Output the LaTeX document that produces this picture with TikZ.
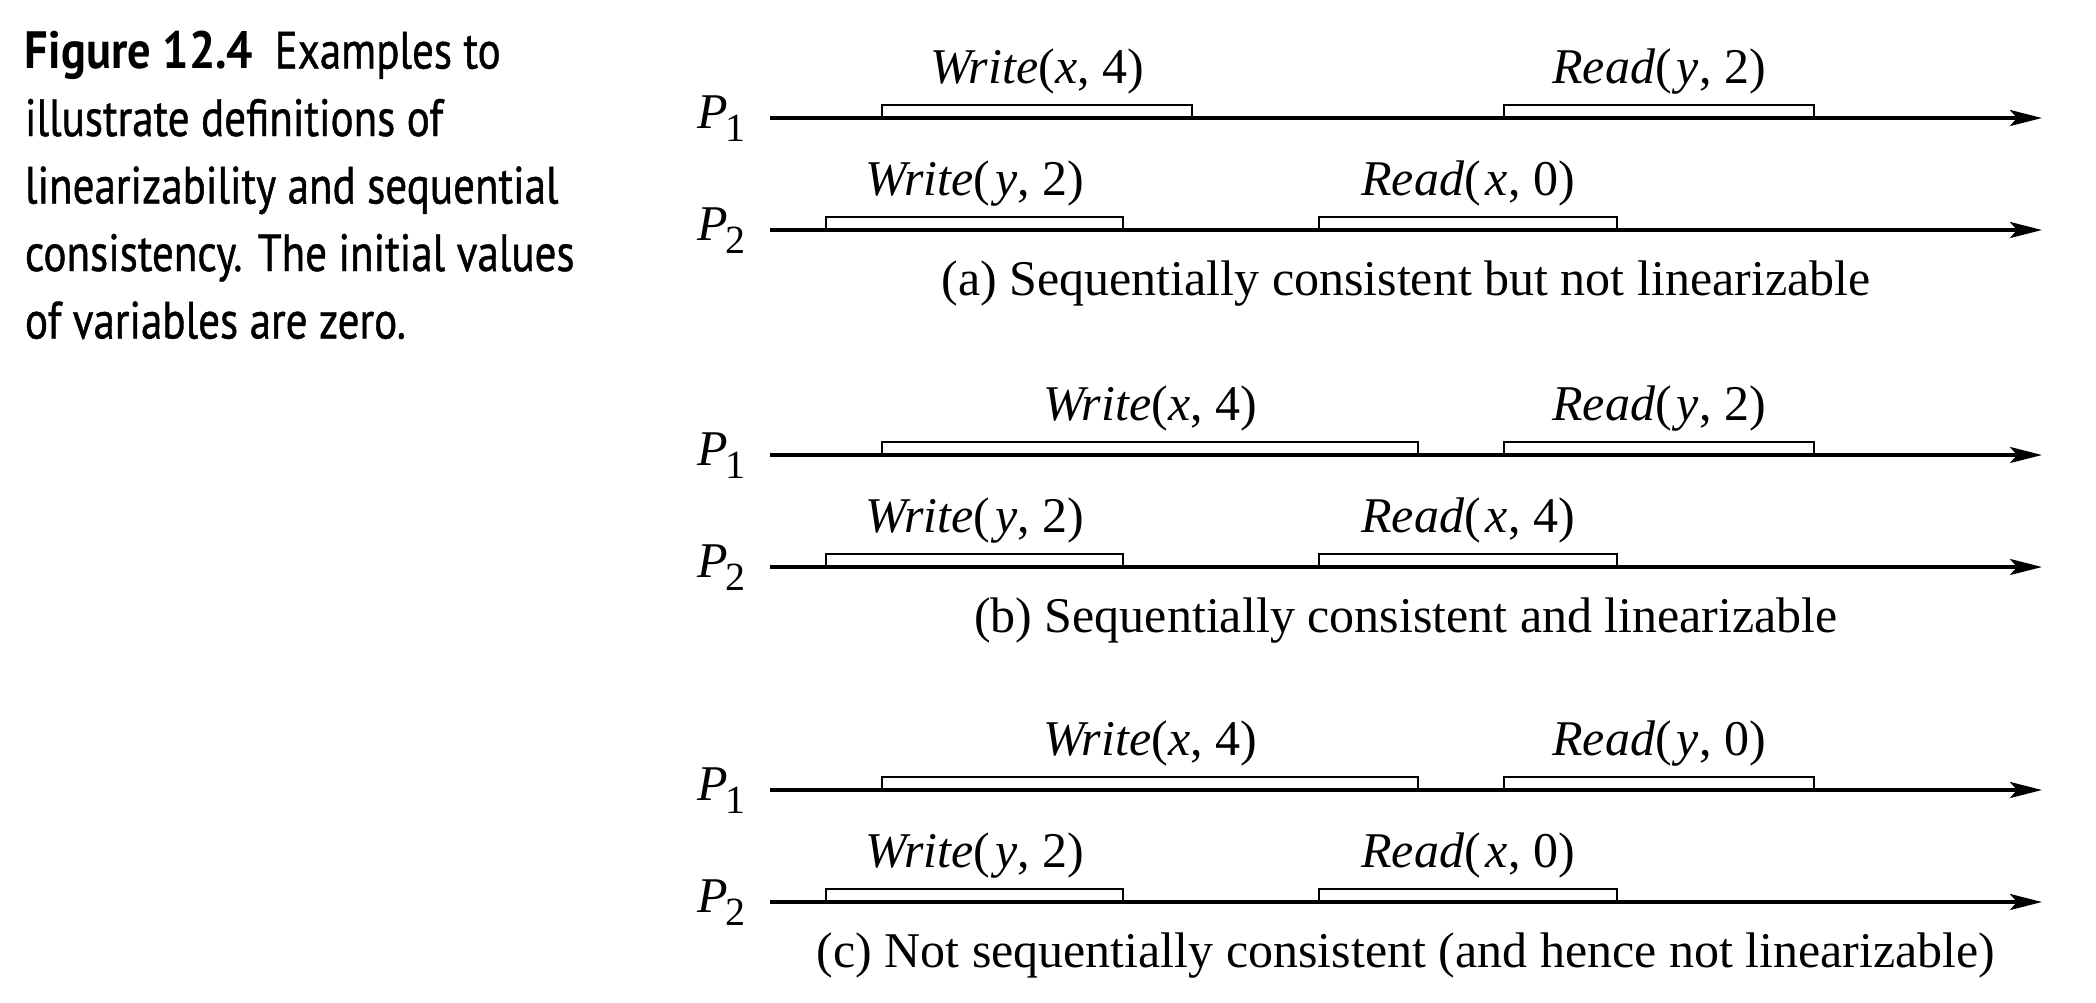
\documentclass[tikz,border=0pt]{standalone}
\usepackage{fontspec}
\setmainfont{Liberation Serif}
\newfontfamily\capfont[FakeStretch=0.82, FakeBold=0.8]{PT Sans}
\newfontfamily\capboldfont[FakeStretch=0.885]{PT Sans}
\usepackage{tikz}
\usetikzlibrary{positioning, arrows.meta}

\newcommand{\psub}[1]{\kern-0.6pt\raisebox{-2.6pt}{\fontsize{8}{8}\selectfont #1}}

\begin{document}
\begin{tikzpicture}[
  x=0.2pt, y=-0.2pt,
  timeline/.style={line width=0.7pt, -{Stealth[length=6.4pt, width=3.2pt, inset=1.4pt]}},
  opbox/.style={line width=0.5pt},
  oplabel/.style={anchor=base, inner sep=0pt, font=\fontsize{10}{12}\selectfont},
  proc/.style={anchor=base east, inner sep=0pt, font=\fontsize{10}{12}\selectfont},
  caption/.style={anchor=base, inner sep=0pt, font=\fontsize{10}{12}\selectfont},
]
\useasboundingbox (0,0) rectangle (2096,1002);

% Legende
\node[anchor=north west, inner sep=0pt, align=left,
      font=\capfont\fontsize{10.5}{13.5}\selectfont] (legend) at (24,30)
  {{\capboldfont\bfseries Figure 12.4}\hspace{4.3pt}Examples to\\
   illustrate definitions of\\
   linearizability and sequential\\
   consistency. The initial values\\
   of variables are zero.};

% Les trois cas (a), (b), (c)
\foreach \n/\yy/\wx/\ry/\rx/\txt in {
    a/118/1192/2/0/{Sequentially consistent but not linearizable},
    b/455/1418/2/4/{Sequentially consistent and linearizable},
    c/790/1418/0/0/{Not sequentially consistent (and hence not linearizable)}} {
  \pgfmathtruncatemacro\yb{\yy+112}
  % P1
  \node[proc] (p1-\n) at (746,\yy+10) {\textit{P}\psub{1}};
  \coordinate (s1-\n) at (770,\yy);
  \coordinate (e1-\n) at (2042,\yy);
  \draw[opbox] (882,\yy) rectangle (\wx,\yy-13);
  \draw[opbox] (1504,\yy) rectangle (1814,\yy-13);
  \draw[timeline] (s1-\n) -- (e1-\n);
  \node[oplabel] (w1-\n) at ({(882+\wx)/2},\yy-35) {\textit{Write}(\textit{x}, 4)};
  \node[oplabel] (r1-\n) at (1659,\yy-35) {\textit{Read}(\kern1pt\textit{y}, \ry)};
  % P2
  \node[proc] (p2-\n) at (746,\yb+10) {\textit{P}\psub{2}};
  \coordinate (s2-\n) at (770,\yb);
  \coordinate (e2-\n) at (2042,\yb);
  \draw[opbox] (826,\yb) rectangle (1123,\yb-13);
  \draw[opbox] (1319,\yb) rectangle (1617,\yb-13);
  \draw[timeline] (s2-\n) -- (e2-\n);
  \node[oplabel] (w2-\n) at (975,\yb-35) {\textit{Write}(\kern1pt\textit{y}, 2)};
  \node[oplabel] (r2-\n) at (1468,\yb-35) {\textit{Read}(\kern1pt\textit{x}, \rx)};
  % legende du cas
  \node[caption] (cap-\n) at (1406,\yb+65) {(\n) \txt};
}

\end{tikzpicture}
\end{document}
